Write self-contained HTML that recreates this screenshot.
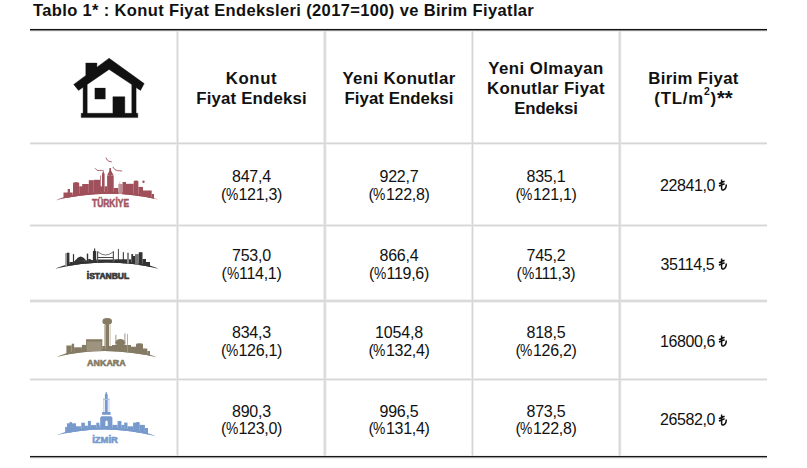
<!DOCTYPE html>
<html><head><meta charset="utf-8">
<style>
html,body{margin:0;padding:0;background:#fff;}
body{width:807px;height:468px;position:relative;overflow:hidden;font-family:"Liberation Sans",sans-serif;color:#111;}
.t{position:absolute;white-space:nowrap;}
#title{left:33px;top:0px;font-size:16.5px;line-height:20px;font-weight:bold;letter-spacing:0.36px;}
.hl{position:absolute;left:30px;width:737px;height:1px;background:#d6d6d6;}
.hs{position:absolute;left:30px;width:737px;height:3px;background:#eeeeee;}
.bl{position:absolute;left:30px;width:737px;height:1px;background:#111;box-shadow:0 1px 0 #aaa;}
.vl{position:absolute;width:1px;background:#d6d6d6;}
.vs{position:absolute;width:3px;background:#eeeeee;}
.h{position:absolute;top:31px;height:112px;display:flex;align-items:center;justify-content:center;text-align:center;font-weight:bold;font-size:16.8px;line-height:20px;}
.h>div{position:relative;top:2px;}
.h sup{font-size:0.62em;line-height:0;vertical-align:0.88em;}
.ast{font-size:1.2em;line-height:0;letter-spacing:0px;vertical-align:-1px;}
.c{position:absolute;display:flex;align-items:center;justify-content:center;text-align:center;font-size:16px;line-height:17.7px;}
.c>div{position:relative;top:1.3px;}
.a{letter-spacing:-0.2px;}
.b{letter-spacing:-0.3px;}
.pc{display:inline-block;width:12.6px;transform:scaleX(0.865);transform-origin:0.5px 0;}
.p{font-size:16px;letter-spacing:-0.4px;}
.tl{display:inline-block;vertical-align:baseline;margin-bottom:-0.5px;margin-left:-1.3px;}
</style></head><body>
<div id="title" class="t">Tablo 1* : Konut Fiyat Endeksleri (2017=100) ve Birim Fiyatlar</div>

<div style="position:absolute;left:621px;top:31px;width:1px;height:425px;background:#f6f6f6"></div>
<div style="position:absolute;left:326px;top:31px;width:1px;height:425px;background:#f3f3f3"></div>
<div style="position:absolute;left:30px;top:302px;width:737px;height:1px;background:#f2f2f2"></div>
<div style="position:absolute;left:30px;top:28px;width:737px;height:1px;background:#f2f2f2"></div>
<div style="position:absolute;left:30px;top:144px;width:737px;height:1px;background:#f0f0f0"></div>
<div style="position:absolute;left:30px;top:299px;width:737px;height:1px;background:#f0f0f0"></div>
<div style="position:absolute;left:30px;top:31px;width:737px;height:1px;background:#f0f0f0"></div>
<div style="position:absolute;left:30px;top:455px;width:737px;height:1px;background:#f0f0f0"></div>
<div style="position:absolute;left:178px;top:31px;width:1px;height:425px;background:#eeeeee"></div>
<div style="position:absolute;left:323px;top:31px;width:1px;height:425px;background:#eeeeee"></div>
<div style="position:absolute;left:473px;top:31px;width:1px;height:425px;background:#eeeeee"></div>
<div style="position:absolute;left:618px;top:31px;width:1px;height:425px;background:#eeeeee"></div>
<div style="position:absolute;left:30px;top:226px;width:737px;height:1px;background:#eeeeee"></div>
<div style="position:absolute;left:30px;top:380px;width:737px;height:1px;background:#eeeeee"></div>
<div style="position:absolute;left:30px;top:458px;width:737px;height:1px;background:#eeeeee"></div>
<div style="position:absolute;left:176px;top:31px;width:1px;height:425px;background:#ececec"></div>
<div style="position:absolute;left:471px;top:31px;width:1px;height:425px;background:#ececec"></div>
<div style="position:absolute;left:30px;top:224px;width:737px;height:1px;background:#ececec"></div>
<div style="position:absolute;left:30px;top:378px;width:737px;height:1px;background:#ececec"></div>
<div style="position:absolute;left:30px;top:142px;width:737px;height:1px;background:#e8e8e8"></div>
<div style="position:absolute;left:620px;top:31px;width:1px;height:425px;background:#e4e4e4"></div>
<div style="position:absolute;left:325px;top:31px;width:1px;height:425px;background:#e0e0e0"></div>
<div style="position:absolute;left:30px;top:300px;width:737px;height:1px;background:#dadada"></div>
<div style="position:absolute;left:30px;top:301px;width:737px;height:1px;background:#dadada"></div>
<div style="position:absolute;left:324px;top:31px;width:1px;height:425px;background:#d8d8d8"></div>
<div style="position:absolute;left:177px;top:31px;width:1px;height:425px;background:#d6d6d6"></div>
<div style="position:absolute;left:472px;top:31px;width:1px;height:425px;background:#d6d6d6"></div>
<div style="position:absolute;left:619px;top:31px;width:1px;height:425px;background:#d6d6d6"></div>
<div style="position:absolute;left:30px;top:143px;width:737px;height:1px;background:#d6d6d6"></div>
<div style="position:absolute;left:30px;top:225px;width:737px;height:1px;background:#d6d6d6"></div>
<div style="position:absolute;left:30px;top:379px;width:737px;height:1px;background:#d6d6d6"></div>
<div style="position:absolute;left:30px;top:457px;width:737px;height:1px;background:#a0a0a0"></div>
<div style="position:absolute;left:30px;top:30px;width:737px;height:1px;background:#888888"></div>
<div style="position:absolute;left:30px;top:456px;width:737px;height:1px;background:#161616"></div>
<div style="position:absolute;left:30px;top:29px;width:737px;height:1px;background:#111111"></div>
<div class="h" style="left:178px;width:147px"><div><span style="letter-spacing:0.6px">Konut</span><br><span style="letter-spacing:0.18px">Fiyat Endeksi</span></div></div>
<div class="h" style="left:326px;width:146px"><div><span style="letter-spacing:0.38px">Yeni Konutlar</span><br><span style="letter-spacing:0.05px">Fiyat Endeksi</span></div></div>
<div class="h" style="left:473px;width:146px"><div><span style="letter-spacing:0.45px">Yeni Olmayan</span><br><span style="letter-spacing:0.37px">Konutlar Fiyat</span><br><span style="letter-spacing:-0.1px">Endeksi</span></div></div>
<div class="h" style="left:620px;width:147px"><div><span style="letter-spacing:0.35px">Birim Fiyat</span><br><span style="letter-spacing:0.8px">(TL/m<sup>2</sup>)<span class="ast">**</span></span></div></div>
<svg style="position:absolute;left:0;top:0" width="807" height="468" viewBox="0 0 807 468"><defs><clipPath id="ct"><path d="M53,120.5 H160 V199.5 L158,199.5 Q106.5,187.6 55,200.5 L53,200.5 Z"/></clipPath><clipPath id="ci"><path d="M53.3,188.7 H160.5 V268.7 L158.5,268.7 Q107,256.5 55.3,268.7 L53.3,268.7 Z"/></clipPath><clipPath id="ca"><path d="M54.8,276.9 H159.5 V357.5 L157.5,357.5 Q105,344.8 56.8,356.9 L54.8,356.9 Z"/></clipPath><clipPath id="cz"><path d="M54.2,355.3 H157.7 V436.2 L155.7,436.2 Q106,423.25 56.2,435.3 L54.2,435.3 Z"/></clipPath></defs><g fill="#111"><path fill-rule="evenodd" stroke="#111" stroke-width="0.4" stroke-linejoin="round" d="M109.1,58.2 L144.2,83.6 L140.5,90.4 L136.1,87.5 V113.3 H137.8 V117.6 H81.2 V113.3 H83.1 V87.2 L78.5,90.4 L73.7,84.4 L85.8,75.4 V63.1 H96.9 V67.2 Z M109.1,69.4 L87.2,84.4 V113.3 H112.9 V96.7 H124.8 V113.3 H131.8 V84.6 Z"/><rect x="94.7" y="87.9" width="10.8" height="11.3"/></g><g fill="#a0505a"><path d="M55,200.5 Q106.5,187.6 158,199.5 L158.00,199.50 L155.85,198.69 L153.71,197.89 L151.56,197.12 L149.42,196.37 L147.27,195.64 L145.12,195.01 L142.98,194.66 L140.83,194.32 L138.69,194.01 L136.54,193.72 L134.40,193.45 L132.25,193.20 L130.10,192.97 L127.96,192.77 L125.81,192.58 L123.67,192.42 L121.52,192.28 L119.38,192.16 L117.23,192.06 L115.08,191.99 L112.94,191.93 L110.79,191.90 L108.65,191.89 L106.50,191.90 L104.35,191.93 L102.21,191.98 L100.06,192.06 L97.92,192.16 L95.77,192.27 L93.62,192.41 L91.48,192.57 L89.33,192.76 L87.19,192.96 L85.04,193.18 L82.90,193.43 L80.75,193.70 L78.60,193.99 L76.46,194.30 L74.31,194.63 L72.17,194.99 L70.02,195.36 L67.88,195.76 L65.73,196.43 L63.58,197.20 L61.44,197.99 L59.29,198.81 L57.15,199.64 L55.00,200.50 Z"/><g clip-path="url(#ct)"><rect x="63.5" y="192.5" width="9.2" height="9.0"/><rect x="67.7" y="189" width="2.3" height="12.5"/><rect x="73" y="183.5" width="6.2" height="18.0"/><rect x="79.2" y="186.3" width="3.8" height="15.2"/><rect x="82.2" y="184" width="0.8" height="17.5"/><rect x="83" y="184" width="5.8" height="17.5"/><rect x="88.8" y="180.2" width="5.0" height="21.3"/><rect x="93.8" y="179.8" width="6.2" height="21.7"/><rect x="100.1" y="175.5" width="0.7" height="26.0"/><rect x="100" y="186.3" width="2" height="15.2"/><rect x="102" y="174" width="2.6" height="27.5"/><rect x="104.6" y="186.3" width="2.5" height="15.2"/><rect x="107.1" y="175.6" width="6.6" height="25.9"/><rect x="109.4" y="168" width="1.6" height="33.5"/><rect x="113.7" y="188" width="4.7" height="13.5"/><rect x="118.4" y="184" width="4.1" height="17.5" fill="#c08a92"/><rect x="119.5" y="181.7" width="0.7" height="19.8" fill="#c9a0a6"/><rect x="122.5" y="182" width="3.5" height="19.5"/><rect x="126" y="183.8" width="7.7" height="17.7"/><rect x="133.7" y="181.5" width="4.7" height="20.0"/><rect x="138.4" y="186.9" width="4.6" height="14.6"/><rect x="143" y="190.5" width="8.7" height="11.0"/><rect x="151.7" y="194" width="2.3" height="7.5"/><path d="M107.1,175.6 L110.2,169 L113.7,175.6 Z M102,174 L103.3,171 L104.6,174 Z"/><ellipse cx="76.1" cy="183.5" rx="3.1" ry="1.6"/><ellipse cx="136" cy="181.5" rx="2.35" ry="1"/><circle cx="143.5" cy="181.7" r="1.2"/></g></g><text x="92" y="206.9" textLength="37.1" lengthAdjust="spacingAndGlyphs" font-family="Liberation Sans" font-weight="bold" font-size="11.3" fill="#a3545e" stroke="#a3545e" stroke-width="0.55">TÜRKİYE</text><g fill="none" stroke="#a0505a" stroke-width="0.9" stroke-linecap="round"><path d="M95.3,168.6 Q97,171.2 99.3,170.6 Q101.5,170 103.6,170.9"/><path d="M106,158 Q107.2,160.8 109,161.3 L111.4,161.9"/><path d="M113,167.2 Q114.8,170.4 117.4,170.7 Q119.8,170.6 121.8,171"/></g><g fill="#333"><path d="M55.3,268.7 Q107,256.5 158.5,268.7 L158.50,268.70 L156.35,267.87 L154.21,267.07 L152.06,266.28 L149.92,265.52 L147.77,264.77 L145.62,264.13 L143.47,263.76 L141.33,263.41 L139.18,263.08 L137.03,262.78 L134.89,262.49 L132.74,262.23 L130.59,261.98 L128.44,261.76 L126.29,261.56 L124.14,261.38 L122.00,261.22 L119.85,261.08 L117.70,260.96 L115.55,260.87 L113.40,260.80 L111.25,260.74 L109.10,260.71 L106.95,260.70 L104.80,260.71 L102.65,260.74 L100.50,260.80 L98.35,260.87 L96.20,260.96 L94.05,261.08 L91.90,261.22 L89.74,261.38 L87.59,261.56 L85.44,261.76 L83.29,261.98 L81.14,262.23 L78.99,262.49 L76.83,262.78 L74.68,263.08 L72.53,263.41 L70.37,263.76 L68.22,264.13 L66.07,264.77 L63.92,265.52 L61.76,266.28 L59.61,267.07 L57.45,267.87 L55.30,268.70 Z"/><g clip-path="url(#ci)"><rect x="65.2" y="253" width="1.8" height="16.7" fill="#999"/><rect x="67" y="252.7" width="2.4" height="17.0"/><rect x="69.4" y="262" width="3.5" height="7.7"/><rect x="72.9" y="254.1" width="1.2" height="15.6"/><rect x="74.1" y="261" width="0.9" height="8.7"/><rect x="75" y="260.2" width="9.4" height="9.5"/><rect x="84.4" y="260.5" width="2.4" height="9.2"/><rect x="86.8" y="253.6" width="1.4" height="16.1"/><rect x="88.2" y="260" width="4.7" height="9.7"/><rect x="92.9" y="251" width="3.3" height="18.7"/><rect x="94" y="248.5" width="1.2" height="21.2"/><rect x="96.2" y="259.5" width="18.1" height="10.2"/><rect x="97" y="251.3" width="1.2" height="18.4" fill="#555"/><rect x="112.8" y="251.3" width="1.2" height="18.4" fill="#555"/><rect x="114.3" y="259.3" width="16.7" height="10.4"/><rect x="117.9" y="248.9" width="0.9" height="20.8"/><rect x="122.8" y="252.2" width="1.1" height="17.5"/><rect x="127" y="252.7" width="2" height="17.0" fill="#888"/><rect x="131.3" y="254.1" width="1.8" height="15.6"/><rect x="133" y="256" width="2" height="13.7"/><rect x="135" y="254.1" width="3.8" height="15.6" fill="#777"/><rect x="138.8" y="252.2" width="3.7" height="17.5"/><rect x="142.5" y="259" width="3.5" height="10.7"/><rect x="146" y="262" width="4" height="7.7"/><path d="M75,260.8 C76.8,258.6 78.8,256.6 80.7,256.5 C82.6,256.6 84.6,258.4 86.6,260.8 Z M87,260.5 C88.5,258.6 90.3,258.6 91.8,260.5 Z"/><path d="M98,252 Q105.5,258 113,252" fill="none" stroke="#555" stroke-width="0.8"/><path d="M98,257.5 H113" stroke="#444" stroke-width="1"/></g></g><text x="86.8" y="278.6" textLength="42.3" lengthAdjust="spacingAndGlyphs" font-family="Liberation Sans" font-weight="bold" font-size="8.4" fill="#3a3a3a" stroke="#3a3a3a" stroke-width="0.7">İSTANBUL</text><g fill="#857a63"><path d="M56.8,356.9 Q105,344.8 157.5,357.5 L157.50,357.50 L155.31,356.65 L153.13,355.82 L150.95,355.02 L148.78,354.24 L146.61,353.47 L144.44,352.81 L142.28,352.42 L140.12,352.06 L137.96,351.71 L135.81,351.38 L133.66,351.08 L131.52,350.80 L129.38,350.54 L127.24,350.30 L125.11,350.08 L122.98,349.89 L120.85,349.71 L118.73,349.56 L116.61,349.43 L114.50,349.32 L112.39,349.23 L110.28,349.17 L108.17,349.12 L106.08,349.10 L103.98,349.10 L101.89,349.12 L99.80,349.16 L97.71,349.22 L95.63,349.31 L93.55,349.41 L91.48,349.54 L89.41,349.69 L87.34,349.86 L85.28,350.05 L83.22,350.26 L81.17,350.50 L79.12,350.76 L77.07,351.03 L75.03,351.33 L72.99,351.66 L70.95,352.00 L68.92,352.36 L66.89,353.00 L64.86,353.74 L62.84,354.49 L60.82,355.28 L58.81,356.08 L56.80,356.90 Z"/><g clip-path="url(#ca)"><rect x="66.4" y="345.5" width="5.3" height="13.0"/><rect x="71.7" y="343.7" width="2.4" height="14.8"/><rect x="74.1" y="347.3" width="7.8" height="11.2"/><rect x="81.9" y="344.9" width="4.2" height="13.6"/><rect x="86.1" y="339.8" width="16.2" height="18.7"/><rect x="87" y="341.5" width="14.4" height="17.0" fill="#9d937f"/><rect x="102.3" y="346" width="3.1" height="12.5"/><rect x="105.4" y="323" width="3.6" height="35.5"/><rect x="109" y="346" width="3" height="12.5"/><rect x="112" y="345" width="19" height="13.5"/><rect x="115.5" y="334.8" width="0.8" height="23.7"/><rect x="124.5" y="333.5" width="0.8" height="25.0"/><rect x="127" y="334" width="0.8" height="24.5" fill="#a89f8c"/><rect x="131" y="346.7" width="5" height="11.8"/><rect x="136" y="344.5" width="7" height="14.0"/><rect x="143" y="348.5" width="4.3" height="10.0"/><rect x="147.3" y="351" width="2.7" height="7.5"/><ellipse cx="107.2" cy="321.4" rx="4.8" ry="3.3"/><rect x="104.2" y="325" width="0.8" height="21" fill="#b9b09f"/><rect x="109.6" y="325" width="1" height="21" fill="#c4bcae"/><ellipse cx="120.3" cy="342.5" rx="4.8" ry="3.5"/><ellipse cx="139.5" cy="344.5" rx="3.5" ry="1.2"/><rect x="86.1" y="339.3" width="16.2" height="1.2"/></g></g><text x="87.1" y="365.7" textLength="38.6" lengthAdjust="spacingAndGlyphs" font-family="Liberation Sans" font-weight="bold" font-size="9.6" fill="#857a63" stroke="#857a63" stroke-width="0.6">ANKARA</text><g fill="#7799cc"><path d="M56.2,435.3 Q106,423.25 155.7,436.2 L155.70,436.20 L153.63,435.34 L151.56,434.50 L149.49,433.69 L147.42,432.90 L145.34,432.12 L143.27,431.45 L141.20,431.05 L139.13,430.68 L137.06,430.32 L134.99,429.99 L132.92,429.68 L130.84,429.39 L128.77,429.12 L126.70,428.87 L124.63,428.65 L122.56,428.44 L120.48,428.26 L118.41,428.10 L116.34,427.97 L114.27,427.85 L112.19,427.75 L110.12,427.68 L108.05,427.63 L105.97,427.60 L103.90,427.59 L101.83,427.61 L99.76,427.64 L97.68,427.70 L95.61,427.78 L93.54,427.88 L91.46,428.00 L89.39,428.14 L87.32,428.31 L85.24,428.50 L83.17,428.71 L81.09,428.94 L79.02,429.19 L76.95,429.46 L74.87,429.76 L72.80,430.08 L70.72,430.42 L68.65,430.78 L66.57,431.41 L64.50,432.15 L62.42,432.90 L60.35,433.68 L58.27,434.48 L56.20,435.30 Z"/><g clip-path="url(#cz)"><rect x="65.2" y="426.9" width="1.8" height="10.3"/><rect x="67" y="423.3" width="9" height="13.9"/><rect x="69.5" y="422.1" width="2.5" height="15.1"/><rect x="76" y="426.3" width="5.3" height="10.9"/><rect x="81.3" y="422.7" width="3.6" height="14.5"/><rect x="84.9" y="425.7" width="3.0" height="11.5"/><rect x="87.9" y="420.9" width="3.0" height="16.3"/><rect x="90.9" y="425.1" width="5.4" height="12.1"/><rect x="96.3" y="422.7" width="3.0" height="14.5"/><rect x="99.3" y="425" width="0.9" height="12.2"/><rect x="112.4" y="424.9" width="5.2" height="12.3"/><rect x="117.6" y="421.1" width="3.8" height="16.1"/><rect x="121.4" y="424.9" width="2.8" height="12.3"/><rect x="124.2" y="422.6" width="3.3" height="14.6"/><rect x="127.5" y="426.3" width="5.6" height="10.9"/><rect x="133.1" y="422.6" width="6.6" height="14.6"/><rect x="136.4" y="422" width="2.8" height="15.2"/><rect x="139.7" y="424.9" width="5.2" height="12.3"/><rect x="144.9" y="428" width="3.1" height="9.2"/><path d="M100.2,417.6 L101.6,416.2 H111 L112.4,417.6 V430 H100.2 Z M105.4,426 V421.4 Q106.55,419.6 107.7,421.4 V426 Z" fill-rule="evenodd"/><rect x="102.1" y="412" width="8.5" height="2.8"/><rect x="104.9" y="394.1" width="2.8" height="18"/><rect x="105.6" y="392.2" width="1.4" height="3"/><rect x="103.2" y="399" width="6.2" height="1" fill="#a9c0e0"/><rect x="103.4" y="398" width="0.8" height="14" fill="#b3c7e4"/><rect x="108.6" y="398" width="0.8" height="14" fill="#b3c7e4"/></g></g><text x="92.2" y="442.9" textLength="25.7" lengthAdjust="spacingAndGlyphs" font-family="Liberation Sans" font-weight="bold" font-size="9.7" fill="#7799cc" stroke="#7799cc" stroke-width="0.6">İZMİR</text></svg>
<div class="c" style="left:178px;width:147px;top:144px;height:81px"><div><span class="a">847,4</span><br><span class="b">(<span class="pc">%</span>121,3)</span></div></div>
<div class="c" style="left:326px;width:146px;top:144px;height:81px"><div><span class="a">922,7</span><br><span class="b">(<span class="pc">%</span>122,8)</span></div></div>
<div class="c" style="left:473px;width:146px;top:144px;height:81px"><div><span class="a">835,1</span><br><span class="b">(<span class="pc">%</span>121,1)</span></div></div>
<div class="c" style="left:620px;width:147px;top:144px;height:81px"><div><span class="p">22841,0</span> <svg class="tl" viewBox="0 0 9 12" width="9" height="12"><path d="M3.6 0.6V9.2Q3.6 11.2 5.4 10.9Q8.2 10.3 8.3 5.6M0.9 4.6L6.6 2.3M0.9 7L6.6 4.7" fill="none" stroke="#111" stroke-width="1.5"/></svg></div></div>
<div class="c" style="left:178px;width:147px;top:226px;height:75px"><div><span class="a">753,0</span><br><span class="b">(<span class="pc">%</span>114,1)</span></div></div>
<div class="c" style="left:326px;width:146px;top:226px;height:75px"><div><span class="a">866,4</span><br><span class="b">(<span class="pc">%</span>119,6)</span></div></div>
<div class="c" style="left:473px;width:146px;top:226px;height:75px"><div><span class="a">745,2</span><br><span class="b">(<span class="pc">%</span>111,3)</span></div></div>
<div class="c" style="left:620px;width:147px;top:226px;height:75px"><div><span class="p">35114,5</span> <svg class="tl" viewBox="0 0 9 12" width="9" height="12"><path d="M3.6 0.6V9.2Q3.6 11.2 5.4 10.9Q8.2 10.3 8.3 5.6M0.9 4.6L6.6 2.3M0.9 7L6.6 4.7" fill="none" stroke="#111" stroke-width="1.5"/></svg></div></div>
<div class="c" style="left:178px;width:147px;top:302px;height:77px"><div><span class="a">834,3</span><br><span class="b">(<span class="pc">%</span>126,1)</span></div></div>
<div class="c" style="left:326px;width:146px;top:302px;height:77px"><div><span class="a">1054,8</span><br><span class="b">(<span class="pc">%</span>132,4)</span></div></div>
<div class="c" style="left:473px;width:146px;top:302px;height:77px"><div><span class="a">818,5</span><br><span class="b">(<span class="pc">%</span>126,2)</span></div></div>
<div class="c" style="left:620px;width:147px;top:302px;height:77px"><div><span class="p">16800,6</span> <svg class="tl" viewBox="0 0 9 12" width="9" height="12"><path d="M3.6 0.6V9.2Q3.6 11.2 5.4 10.9Q8.2 10.3 8.3 5.6M0.9 4.6L6.6 2.3M0.9 7L6.6 4.7" fill="none" stroke="#111" stroke-width="1.5"/></svg></div></div>
<div class="c" style="left:178px;width:147px;top:381px;height:76px"><div><span class="a">890,3</span><br><span class="b">(<span class="pc">%</span>123,0)</span></div></div>
<div class="c" style="left:326px;width:146px;top:381px;height:76px"><div><span class="a">996,5</span><br><span class="b">(<span class="pc">%</span>131,4)</span></div></div>
<div class="c" style="left:473px;width:146px;top:381px;height:76px"><div><span class="a">873,5</span><br><span class="b">(<span class="pc">%</span>122,8)</span></div></div>
<div class="c" style="left:620px;width:147px;top:381px;height:76px"><div><span class="p">26582,0</span> <svg class="tl" viewBox="0 0 9 12" width="9" height="12"><path d="M3.6 0.6V9.2Q3.6 11.2 5.4 10.9Q8.2 10.3 8.3 5.6M0.9 4.6L6.6 2.3M0.9 7L6.6 4.7" fill="none" stroke="#111" stroke-width="1.5"/></svg></div></div>
</body></html>
